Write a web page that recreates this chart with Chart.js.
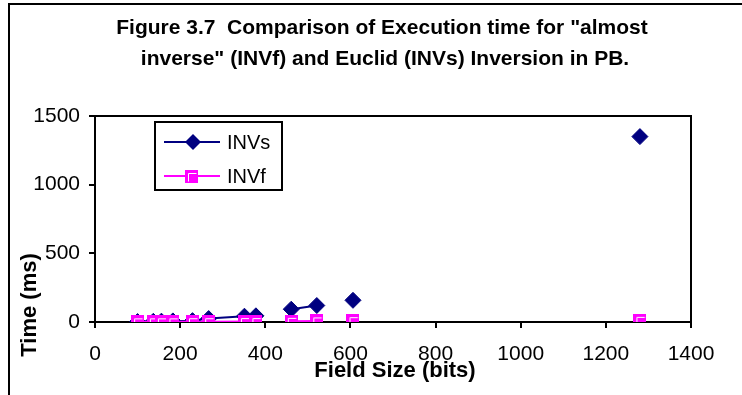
<!DOCTYPE html>
<html>
<head>
<meta charset="utf-8">
<script src="https://cdn.jsdelivr.net/npm/chart.js@4.4.1/dist/chart.umd.min.js"></script>
<style>
  html, body { margin: 0; padding: 0; background: #fff; }
</style>
</head>
<body>
<canvas id="timeChart" width="742" height="395"></canvas>
<script>
// values
const fieldSizes = [100, 137, 156, 183, 229, 267, 351, 378, 461, 521, 606, 1280];
const invsTimes  = [3, 5, 6, 8, 10, 25, 42, 45, 93, 120, 158, 1350];
const invfTimes  = [1, 1, 1, 1, 2, 2, 3, 3, 5, 8, 10, 12];
// the line is not drawn after these points in the original
const breaksAfter = [7, 9, 10];
const xTickValues = [0, 200, 400, 600, 800, 1000, 1200, 1400];
const yTickValues = [0, 500, 1000, 1500];
const titleLines = ['Figure 3.7  Comparison of Execution time for "almost',
                    'inverse" (INVf) and Euclid (INVs) Inversion in PB.'];
const seriesNames = ['INVs', 'INVf'];

const FONT = "'Liberation Sans', Arial, sans-serif";
const NAVY = '#000080';
const MAGENTA = '#ff00ff';

function squareMarker() {
  const c = document.createElement('canvas');
  c.width = 13; c.height = 13;
  const g = c.getContext('2d');
  g.fillStyle = MAGENTA;
  g.fillRect(0, 0, 13, 13);
  g.strokeStyle = '#fff';
  g.lineWidth = 1;
  g.beginPath();
  g.moveTo(3.5, 11.5); g.lineTo(3.5, 3.5); g.lineTo(11.5, 3.5);
  g.stroke();
  return c;
}
const sq = squareMarker();

const toPoints = ys => fieldSizes.map((x, i) => ({ x: x, y: ys[i] }));
const gapSegment = {
  borderColor: c => breaksAfter.includes(c.p0DataIndex) ? 'rgba(0,0,0,0)' : undefined
};

const decorations = {
  id: 'decorations',
  afterDraw(chart) {
    const ctx = chart.ctx;
    const a = chart.chartArea;
    ctx.save();
    // outer frame (only left and top edges are inside the picture)
    ctx.strokeStyle = '#000';
    ctx.lineWidth = 2;
    ctx.beginPath();
    ctx.moveTo(9, 395); ctx.lineTo(9, 4); ctx.lineTo(742, 4);
    ctx.stroke();
    // plot box top/right
    ctx.beginPath();
    ctx.moveTo(a.left, a.top); ctx.lineTo(a.right, a.top); ctx.lineTo(a.right, a.bottom);
    ctx.stroke();

    // title
    ctx.fillStyle = '#000';
    ctx.font = 'bold 21px ' + FONT;
    ctx.textAlign = 'center';
    ctx.textBaseline = 'middle';
    ctx.fillText(titleLines[0], 382, 28);
    ctx.fillText(titleLines[1], 385, 59);

    // axis titles
    ctx.font = 'bold 22px ' + FONT;
    ctx.fillText('Field Size (bits)', 395, 371);
    ctx.save();
    ctx.translate(30, 305);
    ctx.rotate(-Math.PI / 2);
    ctx.fillText('Time (ms)', 0, 0);
    ctx.restore();

    // legend
    ctx.lineWidth = 2;
    ctx.strokeRect(155, 122, 127, 68);
    ctx.font = '20px ' + FONT;
    ctx.textAlign = 'left';
    const rows = [{ y: 142, color: NAVY }, { y: 176, color: MAGENTA }];
    rows.forEach((r, i) => {
      ctx.strokeStyle = r.color;
      ctx.beginPath();
      ctx.moveTo(164, r.y); ctx.lineTo(220, r.y);
      ctx.stroke();
      if (i === 0) {
        ctx.fillStyle = NAVY;
        ctx.beginPath();
        ctx.moveTo(193 - 8, r.y); ctx.lineTo(193, r.y - 8);
        ctx.lineTo(193 + 8, r.y); ctx.lineTo(193, r.y + 8);
        ctx.closePath();
        ctx.fill();
      } else {
        ctx.drawImage(sq, 191 - 6, r.y - 6);
      }
      ctx.fillStyle = '#000';
      ctx.fillText(seriesNames[i], 227, r.y + 1);
    });
    ctx.restore();
  }
};

new Chart(document.getElementById('timeChart'), {
  type: 'line',
  data: {
    datasets: [{
      label: seriesNames[0],
      data: toPoints(invsTimes),
      borderColor: NAVY,
      backgroundColor: NAVY,
      borderWidth: 2,
      pointStyle: 'rectRot',
      pointRadius: 8,
      pointBorderWidth: 1,
      segment: gapSegment,
      order: 1
    }, {
      label: seriesNames[1],
      data: toPoints(invfTimes),
      borderColor: MAGENTA,
      backgroundColor: MAGENTA,
      borderWidth: 2,
      pointStyle: sq,
      pointRadius: 7,
      segment: gapSegment,
      order: 0
    }]
  },
  options: {
    responsive: false,
    animation: false,
    events: [],
    layout: { padding: { left: 0, right: 51, top: 116, bottom: 0 } },
    plugins: {
      legend: { display: false },
      title: { display: false },
      tooltip: { enabled: false }
    },
    scales: {
      x: {
        type: 'linear',
        min: 0,
        max: 1400,
        afterBuildTicks: s => { s.ticks = xTickValues.map(v => ({ value: v })); },
        afterFit: s => { s.height = 73; },
        grid: { drawOnChartArea: false, drawTicks: true, tickLength: 6, color: '#000', lineWidth: 2 },
        border: { color: '#000', width: 2 },
        ticks: {
          color: '#000',
          padding: 14,
          maxRotation: 0,
          font: { family: FONT, size: 21 },
          callback: v => String(v)
        }
      },
      y: {
        min: 0,
        max: 1500,
        afterBuildTicks: s => { s.ticks = yTickValues.map(v => ({ value: v })); },
        afterFit: s => { s.width = 95; },
        grid: { drawOnChartArea: false, drawTicks: true, tickLength: 6, color: '#000', lineWidth: 2 },
        border: { color: '#000', width: 2 },
        ticks: {
          color: '#000',
          padding: 9,
          font: { family: FONT, size: 21 },
          callback: v => String(v)
        }
      }
    }
  },
  plugins: [decorations]
});
</script>
</body>
</html>
